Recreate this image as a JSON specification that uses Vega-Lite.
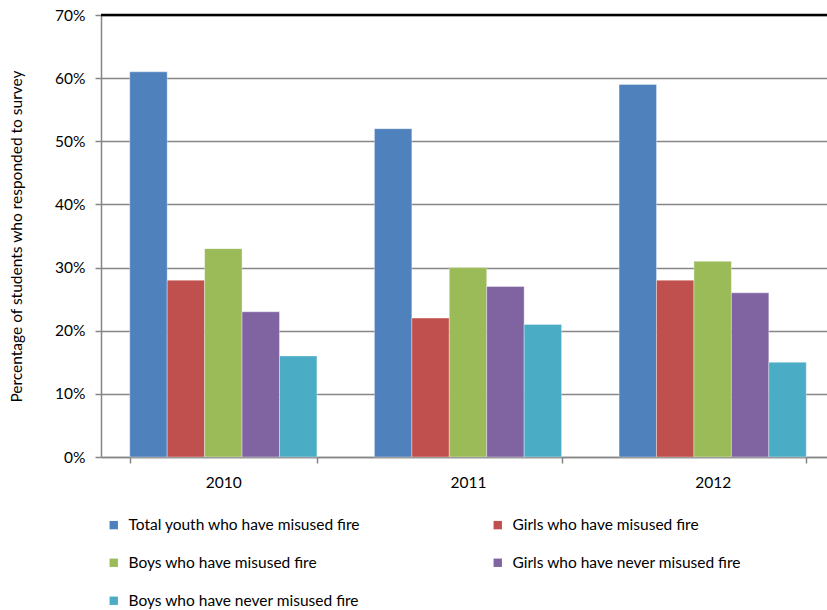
{
  "$schema": "https://vega.github.io/schema/vega-lite/v6.json",
  "autosize": "none",
  "padding": {"left": 101, "top": 15, "right": 0, "bottom": 153},
  "width": 726,
  "height": 442,
  "background": "white",
  "config": {
    "font": "Lato",
    "view": {"stroke": null}
  },
  "data": {
    "values": [
      {"year": "2010", "group": "Total youth who have misused fire", "value": 0.61},
      {"year": "2010", "group": "Girls who have misused fire", "value": 0.28},
      {"year": "2010", "group": "Boys who have misused fire", "value": 0.33},
      {"year": "2010", "group": "Girls who have never misused fire", "value": 0.23},
      {"year": "2010", "group": "Boys who have never misused fire", "value": 0.16},
      {"year": "2011", "group": "Total youth who have misused fire", "value": 0.52},
      {"year": "2011", "group": "Girls who have misused fire", "value": 0.22},
      {"year": "2011", "group": "Boys who have misused fire", "value": 0.30},
      {"year": "2011", "group": "Girls who have never misused fire", "value": 0.27},
      {"year": "2011", "group": "Boys who have never misused fire", "value": 0.21},
      {"year": "2012", "group": "Total youth who have misused fire", "value": 0.59},
      {"year": "2012", "group": "Girls who have misused fire", "value": 0.28},
      {"year": "2012", "group": "Boys who have misused fire", "value": 0.31},
      {"year": "2012", "group": "Girls who have never misused fire", "value": 0.26},
      {"year": "2012", "group": "Boys who have never misused fire", "value": 0.15}
    ]
  },
  "layer": [
    {
      "mark": {"type": "bar", "stroke": "#ffffff", "strokeWidth": 0.6, "strokeOpacity": 0.6},
      "encoding": {
        "x": {
          "field": "year", "type": "nominal",
          "scale": {"range": [0, 734], "paddingInner": 0.235, "paddingOuter": 0.1175},
          "axis": {
            "title": null, "labelAngle": 0, "labelFontSize": 15.5, "labelColor": "#000000",
            "labelPadding": 12, "domainColor": "#868686", "domainWidth": 1.5,
            "tickColor": "#868686", "tickWidth": 1.5, "tickSize": 6, "tickBand": "extent",
            "grid": false
          }
        },
        "xOffset": {
          "field": "group", "type": "nominal",
          "sort": ["Total youth who have misused fire", "Girls who have misused fire", "Boys who have misused fire", "Girls who have never misused fire", "Boys who have never misused fire"],
          "scale": {"paddingInner": 0, "paddingOuter": 0}
        },
        "y": {
          "field": "value", "type": "quantitative",
          "scale": {"domain": [0, 0.7], "nice": false},
          "axis": {
            "title": "Percentage of students who responded to survey",
            "titleFontSize": 15.5, "titleFontWeight": "normal", "titleColor": "#000000", "titlePadding": 30,
            "format": ".0%", "values": [0, 0.1, 0.2, 0.3, 0.4, 0.5, 0.6, 0.7],
            "labelFontSize": 15.5, "labelColor": "#000000", "labelPadding": 10,
            "domainColor": "#868686", "domainWidth": 1.5,
            "tickColor": "#868686", "tickWidth": 1.5, "tickSize": 6,
            "grid": true, "gridColor": "#868686", "gridWidth": 1.5, "gridOpacity": 1
          }
        },
        "color": {
          "field": "group", "type": "nominal",
          "sort": ["Total youth who have misused fire", "Girls who have misused fire", "Boys who have misused fire", "Girls who have never misused fire", "Boys who have never misused fire"],
          "scale": {"range": ["#4F81BD", "#C0504D", "#9BBB59", "#8064A2", "#4BACC6"]},
          "legend": {
            "title": null, "orient": "none", "legendX": 5, "legendY": 502,
            "direction": "horizontal",
            "columns": 2, "columnPadding": 129, "rowPadding": 21,
            "symbolType": "square", "symbolSize": 70, "symbolStrokeWidth": 0,
            "labelFontSize": 15.5, "labelColor": "#000000", "labelLimit": 400, "labelOffset": 7
          }
        }
      }
    },
    {
      "data": {"values": [{"top": 0.7}]},
      "mark": {"type": "rule", "color": "#000000", "strokeWidth": 2.5},
      "encoding": {"y": {"field": "top", "type": "quantitative"}}
    }
  ]
}
